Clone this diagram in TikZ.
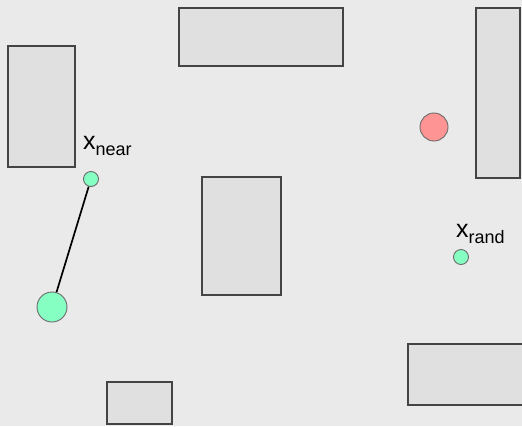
\documentclass[tikz,border=0pt]{standalone}
\usepackage{fontspec}
\setmainfont{Liberation Sans}
\usetikzlibrary{positioning}
\definecolor{bgGray}{HTML}{E9EAE9}
\definecolor{obsFill}{HTML}{E0E0E0}
\definecolor{obsLine}{HTML}{444444}
\definecolor{ptGreen}{HTML}{85FFC2}
\definecolor{ptRed}{HTML}{FF9494}
\definecolor{ptLine}{HTML}{6A6A6A}
\tikzset{
  obst/.style={draw=obsLine, fill=obsFill, line width=1.1pt},
  pt/.style={circle, draw=ptLine, line width=0.9pt, inner sep=0pt},
  lbl/.style={anchor=base west, inner sep=0pt, font=\fontsize{25}{25}\selectfont}
}
\newcommand{\subtxt}[1]{\raisebox{-6pt}{\fontsize{18}{18}\selectfont #1}}

\begin{document}
\begin{tikzpicture}[x=1pt, y=-1pt]
  \fill[bgGray] (0,0) rectangle (522,426);
  \useasboundingbox (0,0) rectangle (522,426);
  % obstacles
  \draw[obst] (8,46) rectangle (75,167);
  \draw[obst] (179,8) rectangle (343,66);
  \draw[obst] (476,8) rectangle (520,178);
  \draw[obst] (202,177) rectangle (281,295);
  \draw[obst] (408,344) rectangle (523,405);
  \draw[obst] (107,382) rectangle (172,424);
  % tree points
  \node[pt, fill=ptGreen, minimum size=30pt] (start) at (52,307) {};
  \node[pt, fill=ptGreen, minimum size=15pt] (near) at (91,179) {};
  \node[pt, fill=ptGreen, minimum size=15pt] (rand) at (461,257) {};
  \node[pt, fill=ptRed, minimum size=28pt] (goal) at (434,127) {};
  \draw[line width=1.7pt] (start) -- (near);
  % labels
  \node[lbl] (nearlbl) at (83,149) {x\subtxt{near}};
  \node[lbl] (randlbl) at (456,237) {x\subtxt{rand}};
\end{tikzpicture}
\end{document}
